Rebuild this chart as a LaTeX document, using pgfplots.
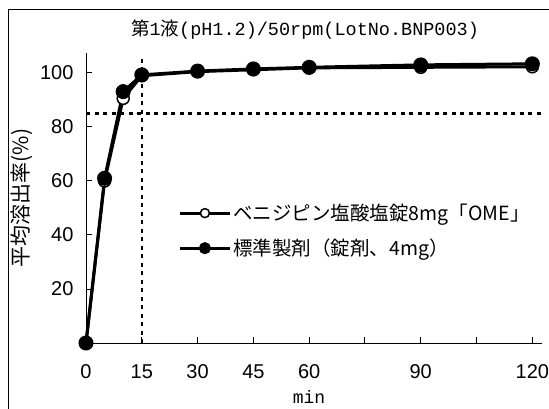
\documentclass[border=0pt]{standalone}
\usepackage{pgfplots}
\pgfplotsset{compat=1.18}
\usepackage{fontspec}
\setmainfont{Liberation Sans}
\newfontfamily\cjk{Noto Sans CJK JP}
\newfontfamily\mono{Liberation Mono}
\begin{document}
\begin{tikzpicture}
\draw[line width=1bp] (8bp,-420bp) -- (8bp,-9bp) -- (560bp,-9bp);
\node at (305bp,-30bp) {\fontsize{18.5bp}{20bp}\selectfont{\cjk 第}{\mono 1}{\cjk 液}{\mono (pH1.2)/50rpm(LotNo.BNP003)}};
\node[rotate=90] at (22bp,-198bp) {\cjk\fontsize{21bp}{23bp}\selectfont 平均溶出率(\%)};
\node at (309bp,-397bp) {\mono\fontsize{18bp}{19bp}\selectfont min};
\begin{axis}[
  at={(86bp,-343bp)}, anchor=south west,
  scale only axis, width=456bp, height=290bp,
  xmin=0, xmax=122.6, ymin=0, ymax=107.4,
  axis lines=left, axis line style={-, line width=1bp},
  tick align=inside, major tick length=6bp,
  tick style={line width=1bp, black},
  xtick={0,15,30,45,60,75,90,105,120},
  xticklabels={0,15,30,45,60,,90,,120},
  ytick={20,40,60,80,100},
  /pgf/number format/assume math mode=true,
  ticklabel style={font=\fontsize{20bp}{22bp}\selectfont},
  xticklabel style={yshift=-18bp},
  yticklabel style={xshift=-9bp},
  clip=false,
  legend cell align=left,
  legend style={draw=none, fill=none, at={(0.2,0.49)}, anchor=north west,
    font=\cjk\fontsize{19.5bp}{22bp}\selectfont, row sep=13bp, inner sep=1bp},
  legend image code/.code={\draw[mark repeat=2,mark phase=2,#1,mark size=4.5bp] plot coordinates {(0bp,0bp) (25bp,0bp) (50bp,0bp)};},
]
\draw[dash pattern=on 4bp off 4.5bp, line width=2.5bp] (axis cs:15,0) -- (axis cs:15,107);
\draw[dash pattern=on 4bp off 4.5bp, line width=2.5bp] (axis cs:0,85) -- (axis cs:122.6,85);
\addplot[black, line width=3bp, mark=*, mark size=6bp, mark options={fill=white, line width=1.5bp}]
  coordinates {(0,0) (5,60) (10,90.6) (15,99.0) (30,100.5) (45,101.2) (60,101.9) (90,102.1) (120,102.3)};
\addlegendentry{ベニジピン塩酸塩錠8mg「OME」}
\addplot[black, line width=3bp, mark=*, mark size=6bp, mark options={fill=black}]
  coordinates {(0,0) (5,61) (10,93.1) (15,99.3) (30,100.7) (45,101.5) (60,102.1) (90,103.0) (120,103.4)};
\addlegendentry{標準製剤（錠剤、4mg）}
\end{axis}
\pgfresetboundingbox
\path[use as bounding box] (0bp,0bp) rectangle (549bp,-409bp);
\end{tikzpicture}
\end{document}
